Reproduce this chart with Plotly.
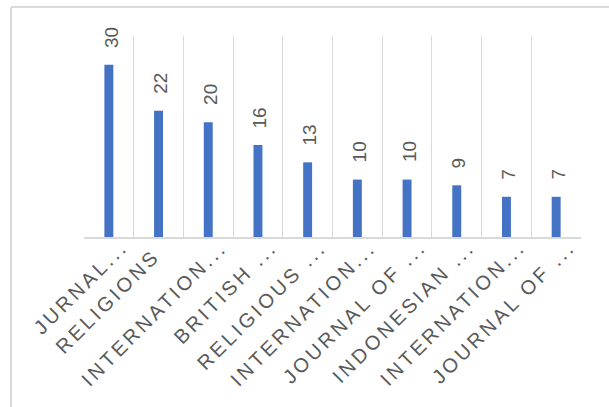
import plotly.graph_objects as go

categories = ["JURNAL...", "RELIGIONS", "INTERNATION...", "BRITISH ...", "RELIGIOUS ...",
              "INTERNATION...", "JOURNAL OF ...", "INDONESIAN ...", "INTERNATION...", "JOURNAL OF ..."]
values = [30, 22, 20, 16, 13, 10, 10, 9, 7, 7]
ids = [f"c{i}" for i in range(len(categories))]

W, H = 609, 407
ml, mr, mt, mb = 84, 28, 36, 170
pw, ph = W - ml - mr, H - mt - mb

grid = "#d9d9d9"
txt = "#595959"
font_family = "Arial, 'Liberation Sans', sans-serif"

fig = go.Figure()
fig.add_trace(go.Bar(x=ids, y=values, marker=dict(color="#4472C4", line=dict(width=0)),
                     hoverinfo="skip"))

# value labels
for cid, v in zip(ids, values):
    fig.add_annotation(x=cid, y=v, text=str(v), textangle=-90, showarrow=False,
                       xanchor="center", yanchor="bottom", yshift=15, xshift=2,
                       font=dict(family=font_family, size=19, color=txt))

# category labels (rotated, letter-spaced)
for cid, c in zip(ids, categories):
    trunc = c.endswith("...")
    fig.add_annotation(x=cid, y=0, yref="y",
                       text=f'<span style="letter-spacing:3.2px">{c}</span>',
                       textangle=-45, showarrow=False,
                       xanchor="right", yanchor="top",
                       xshift=26 if trunc else 9, yshift=4 if trunc else -5,
                       font=dict(family=font_family, size=20, color=txt))

fig.update_layout(
    width=W, height=H,
    margin=dict(l=ml, r=mr, t=mt, b=mb, autoexpand=False),
    paper_bgcolor="white", plot_bgcolor="white",
    bargap=0.82, showlegend=False,
    xaxis=dict(type="category", tickvals=ids, showticklabels=False,
               tickson="boundaries", showgrid=True, gridcolor=grid, gridwidth=1,
               showline=True, linecolor=grid, linewidth=1.5, ticks="",
               range=[-0.5, len(ids) - 0.5], fixedrange=True),
    yaxis=dict(range=[0, 35], visible=False, showgrid=False, fixedrange=True),
    shapes=[
        dict(type="line", xref="paper", yref="paper",
             x0=(11 - ml) / pw, x1=(W + 5 - ml) / pw,
             y0=(H - mb - 7) / ph, y1=(H - mb - 7) / ph,
             line=dict(color=grid, width=2)),
        dict(type="line", xref="paper", yref="paper",
             x0=(11 - ml) / pw, x1=(11 - ml) / pw,
             y0=(H - mb - 7) / ph, y1=-(mb + 5) / ph,
             line=dict(color=grid, width=2)),
    ],
)

fig.write_html("out.html")
